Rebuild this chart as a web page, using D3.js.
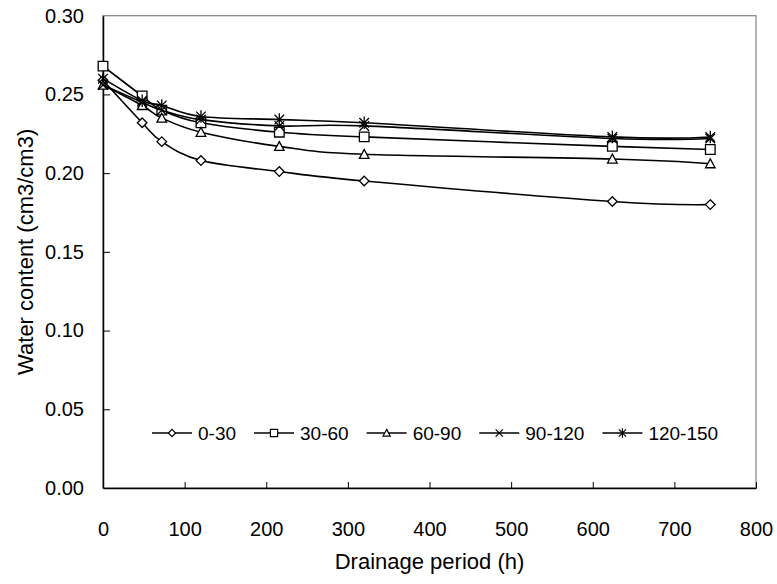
<!DOCTYPE html>
<html>
<head>
<meta charset="utf-8">
<script src="https://cdn.jsdelivr.net/npm/d3@7"></script>
<style>
    body { margin: 0; background: #fff; }
    svg { display: block; font-family: Arial, "Liberation Sans", sans-serif; }
</style>
</head>
<body>
<svg width="777" height="584"></svg>
<script>
    // drainage time (h) and water content per depth layer (cm)
    var hours = [0, 48, 72, 120, 216, 320, 624, 744];
    var layers = ["0-30", "30-60", "60-90", "90-120", "120-150"];
    var wc_0_30 = [0.259, 0.232, 0.220, 0.208, 0.201, 0.195, 0.182, 0.180];
    var wc_30_60 = [0.268, 0.249, 0.240, 0.232, 0.226, 0.223, 0.217, 0.215];
    var wc_60_90 = [0.256, 0.243, 0.235, 0.226, 0.217, 0.212, 0.209, 0.206];
    var wc_90_120 = [0.256, 0.245, 0.240, 0.234, 0.230, 0.230, 0.222, 0.222];
    var wc_120_150 = [0.260, 0.246, 0.243, 0.236, 0.234, 0.232, 0.223, 0.223];
    var xTicks = [0, 100, 200, 300, 400, 500, 600, 700, 800];
    var yTicks = [0, 0.05, 0.10, 0.15, 0.20, 0.25, 0.30];

    var seriesValues = [wc_0_30, wc_30_60, wc_60_90, wc_90_120, wc_120_150];
    var markers = ["diamond", "square", "triangle", "x", "asterisk"];

    var svg = d3.select("svg");

    var x = d3.scaleLinear().domain([0, 800]).range([103, 756]),
        y = d3.scaleLinear().domain([0, 0.30]).range([488, 15.7]);

    function markerPath(type, s) {
        if (type == "diamond") return "M0," + (-s) + "L" + s + ",0L0," + s + "L" + (-s) + ",0Z";
        if (type == "square") return "M" + (-s) + "," + (-s) + "H" + s + "V" + s + "H" + (-s) + "Z";
        if (type == "triangle") return "M0," + (-s) + "L" + s + "," + (s * 0.85) + "H" + (-s) + "Z";
        var d = "M" + (-s) + "," + (-s) + "L" + s + "," + s + "M" + (-s) + "," + s + "L" + s + "," + (-s);
        if (type == "asterisk") d += "M0," + (-s * 1.3) + "V" + (s * 1.3);
        return d;
    }

    // plot frame (grey) and axes
    svg.append("rect")
        .attr("x", x(0))
        .attr("y", y(0.30))
        .attr("width", x(800) - x(0))
        .attr("height", y(0) - y(0.30))
        .style("fill", "none")
        .style("stroke", "#8c8c8c")
        .style("stroke-width", 1.3);

    var gx = svg.append("g")
        .attr("class", "axis axis--x")
        .attr("transform", "translate(0," + y(0) + ")")
        .call(d3.axisBottom(x).tickValues(xTicks).tickSizeInner(-6).tickSizeOuter(0).tickPadding(34));

    var gy = svg.append("g")
        .attr("class", "axis axis--y")
        .attr("transform", "translate(" + x(0) + ",0)")
        .call(d3.axisLeft(y).tickValues(yTicks).tickFormat(d3.format(".2f")).tickSizeInner(-7).tickSizeOuter(0).tickPadding(19));

    svg.selectAll(".axis path").style("stroke", "#000").style("stroke-width", 1.5);
    svg.selectAll(".axis line").style("stroke", "#000").style("stroke-width", 1);
    svg.selectAll(".axis text")
        .style("font-family", "Arial, 'Liberation Sans', sans-serif")
        .style("font-size", "20px")
        .style("fill", "#000");
    gx.selectAll(".tick").filter(function(d) { return d == 0; }).select("line").remove();
    gy.selectAll(".tick").filter(function(d) { return d == 0 || d == 0.30; }).select("line").remove();

    svg.append("text")
        .attr("x", (x(0) + x(800)) / 2)
        .attr("y", 569)
        .attr("text-anchor", "middle")
        .style("font-size", "22px")
        .text("Drainage period (h)");

    svg.append("text")
        .attr("transform", "translate(33," + ((y(0) + y(0.30)) / 2) + ") rotate(-90)")
        .attr("text-anchor", "middle")
        .style("font-size", "22px")
        .text("Water content (cm3/cm3)");

    var line = d3.line()
        .x(function(d) { return x(d[0]); })
        .y(function(d) { return y(d[1]); })
        .curve(d3.curveCatmullRom.alpha(0));

    seriesValues.forEach(function(vals, i) {
        var pts = hours.map(function(h, j) { return [h, vals[j]]; });
        var g = svg.append("g").attr("class", "series");

        g.append("path")
            .datum(pts)
            .attr("d", line)
            .style("fill", "none")
            .style("stroke", "#000")
            .style("stroke-width", 1.6);

        g.selectAll(".mark")
            .data(pts)
            .enter().append("path")
            .attr("class", "mark")
            .attr("transform", function(d) { return "translate(" + x(d[0]) + "," + y(d[1]) + ")"; })
            .attr("d", markerPath(markers[i], 4.8))
            .style("fill", "#fff")
            .style("stroke", "#000")
            .style("stroke-width", 1.3);
    });

    // legend inside the plot
    var legend = svg.append("g").attr("class", "legend"),
        lx = 152,
        ly = 433;

    layers.forEach(function(name, i) {
        var item = legend.append("g").attr("transform", "translate(" + lx + "," + ly + ")");
        item.append("line")
            .attr("x1", 0).attr("x2", 40)
            .style("stroke", "#000")
            .style("stroke-width", 1.5);
        item.append("path")
            .attr("transform", "translate(20,0)")
            .attr("d", markerPath(markers[i], 3.6))
            .style("fill", "#fff")
            .style("stroke", "#000")
            .style("stroke-width", 1.2);
        var t = item.append("text")
            .attr("x", 46)
            .attr("dy", "0.35em")
            .style("font-size", "19px")
            .text(name);
        lx += 46 + t.node().getComputedTextLength() + 18;
    });
</script>
</body>
</html>
